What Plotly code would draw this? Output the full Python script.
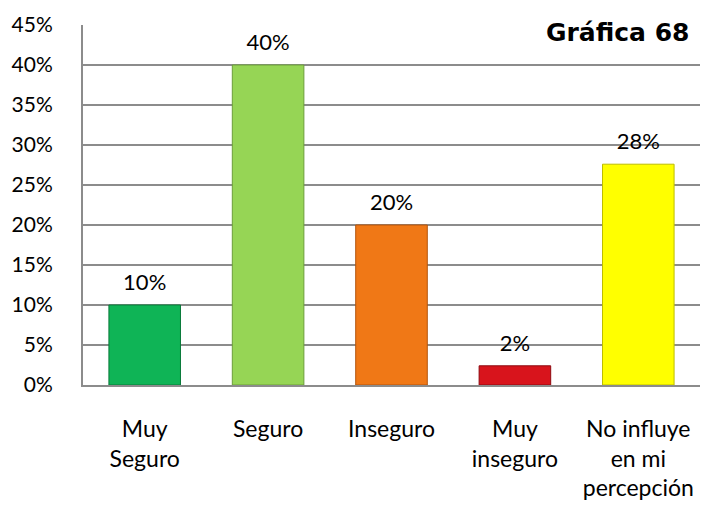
import plotly.graph_objects as go

categories = ["Muy<br>Seguro", "Seguro", "Inseguro", "Muy<br>inseguro", "No influye<br>en mi<br>percepción"]
values = [0.10, 0.40, 0.20, 0.024, 0.276]
bar_colors = ["#0FB456", "#96D555", "#F07816", "#D8141C", "#FFFF00"]
edge_colors = ["#0A7A3A", "#6C9E3A", "#B4550C", "#8E0A10", "#BDBD00"]
y_ticks = [0, 0.05, 0.10, 0.15, 0.20, 0.25, 0.30, 0.35, 0.40, 0.45]
y_tick_labels = ["0%", "5%", "10%", "15%", "20%", "25%", "30%", "35%", "40%", "45%"]
chart_title = "Gráfica 68"

font_family = "Lato, 'Open Sans', sans-serif"

fig = go.Figure()

fig.add_trace(
    go.Bar(
        x=categories,
        y=values,
        marker=dict(color=bar_colors, line=dict(color=edge_colors, width=1)),
        hoverinfo="skip",
    )
)

# value labels sit above each bar; the invisible marker sets their lift
fig.add_trace(
    go.Scatter(
        x=categories,
        y=values,
        mode="markers+text",
        marker=dict(size=14, opacity=0),
        texttemplate="%{y:.0%}",
        textposition="top center",
        textfont=dict(family=font_family, size=22, color="#000000"),
        cliponaxis=False,
        hoverinfo="skip",
    )
)

fig.update_layout(
    width=711,
    height=512,
    margin=dict(l=83, r=11, t=23, b=126),
    paper_bgcolor="#FFFFFF",
    plot_bgcolor="#FFFFFF",
    bargap=0.42,
    showlegend=False,
    font=dict(family=font_family, size=21, color="#000000"),
    xaxis=dict(
        showgrid=False,
        showline=True,
        linecolor="#8C8C8C",
        linewidth=2,
        ticks="",
        ticklabelstandoff=22,
        tickfont=dict(family=font_family, size=23, color="#000000"),
    ),
    yaxis=dict(
        range=[0, 0.45],
        tickvals=y_ticks,
        ticktext=y_tick_labels,
        showgrid=True,
        gridcolor="#8C8C8C",
        gridwidth=2,
        zeroline=False,
        showline=True,
        linecolor="#8C8C8C",
        linewidth=2,
        ticks="",
        ticklabelstandoff=24,
        tickfont=dict(family=font_family, size=21, color="#000000"),
    ),
    annotations=[
        dict(
            text="<b>" + chart_title + "</b>",
            xref="paper",
            yref="paper",
            x=0.996,
            y=0.978,
            xanchor="right",
            yanchor="middle",
            showarrow=False,
            bgcolor="#FFFFFF",
            borderpad=8,
            font=dict(family="'DejaVu Sans', sans-serif", size=25, color="#000000"),
        )
    ],
)

fig.write_html("out.html")
